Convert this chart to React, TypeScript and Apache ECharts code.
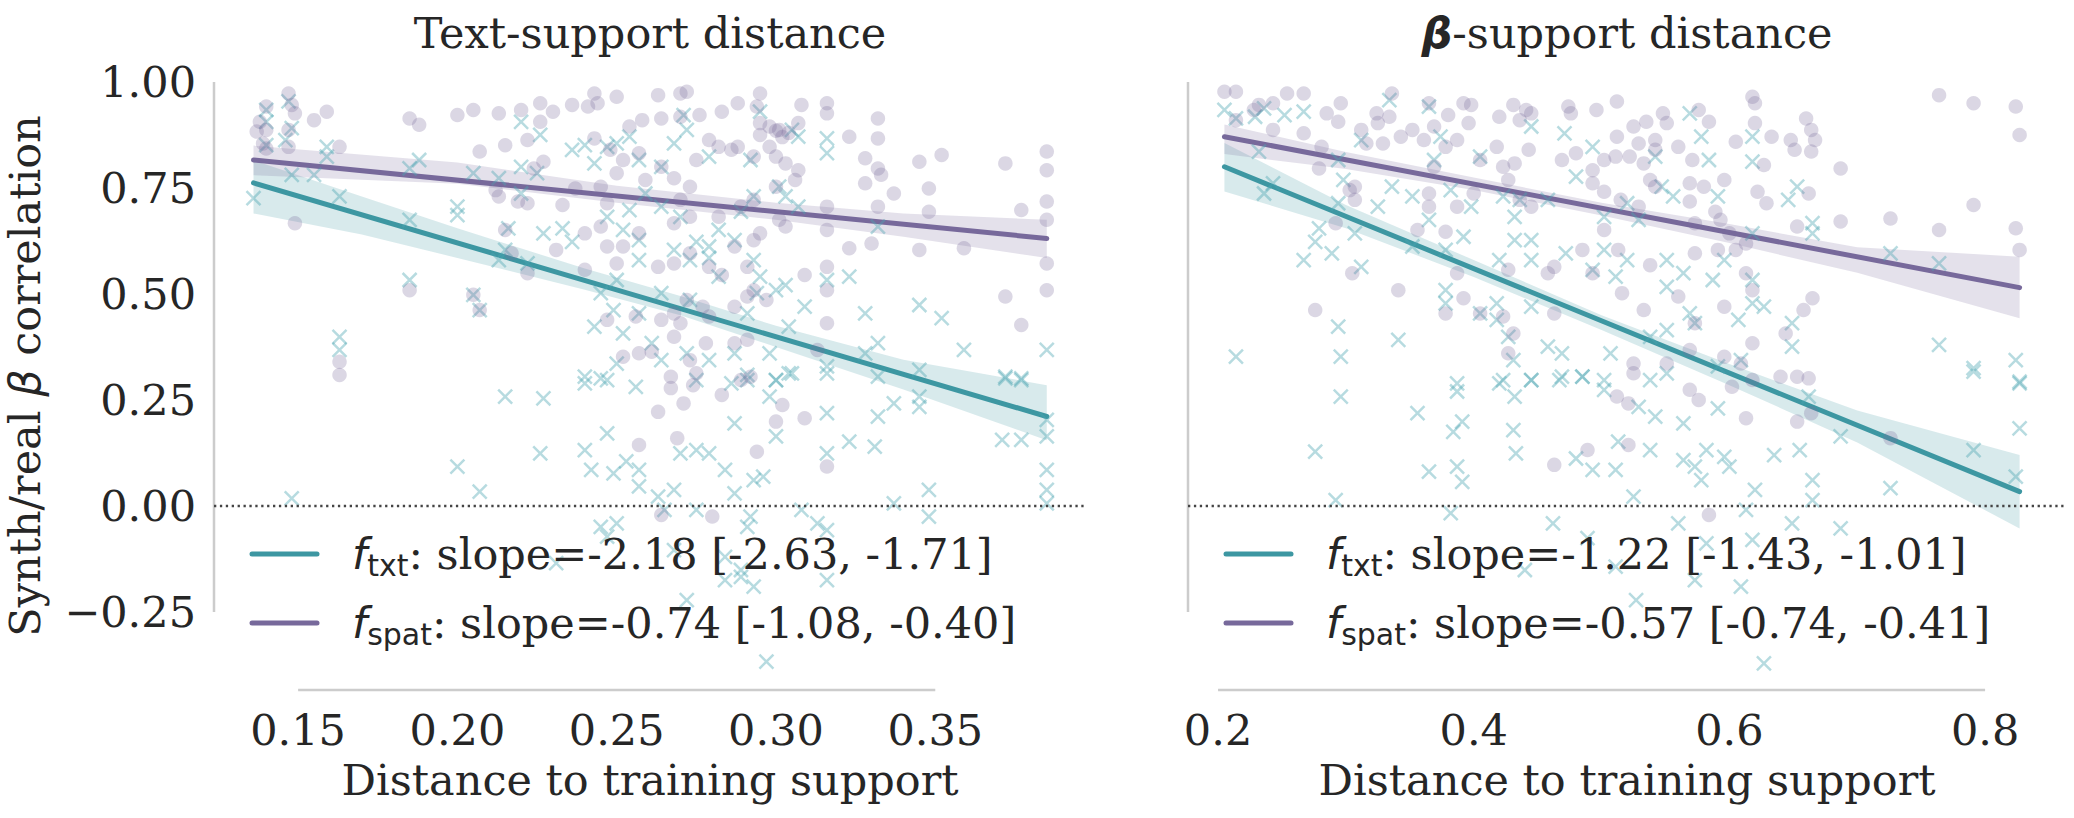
import React, { useEffect, useRef } from 'react';
import * as echarts from 'echarts';

// ---------- axes ----------
const leftXTicks = [0.15, 0.2, 0.25, 0.3, 0.35];
const rightXTicks = [0.2, 0.4, 0.6, 0.8];
const yTicks = [-0.25, 0, 0.25, 0.5, 0.75, 1.0];
const leftXRange = [0.1236, 0.397];
const rightXRange = [0.1765, 0.8633];
const yRange = [-0.434, 1.0377];

// ---------- texts ----------
const leftTitle = 'Text-support distance';
const rightTitleRest = '-support distance';
const xAxisTitle = 'Distance to training support';
const leftLegend = ['slope=-2.18 [-2.63, -1.71]', 'slope=-0.74 [-1.08, -0.40]'];
const rightLegend = ['slope=-1.22 [-1.43, -1.01]', 'slope=-0.57 [-0.74, -0.41]'];

// ---------- regression fits [x, y] ----------
const leftTxtFit = [[0.136, 0.762], [0.385, 0.211]];
const leftSpatFit = [[0.136, 0.816], [0.385, 0.631]];
const rightTxtFit = [[0.205, 0.800], [0.827, 0.034]];
const rightSpatFit = [[0.205, 0.871], [0.827, 0.515]];

// ---------- confidence bands [x, lower, upper] ----------
const leftTxtBand = [[0.136, 0.690, 0.815], [0.17, 0.640, 0.730], [0.20, 0.585, 0.655], [0.24, 0.510, 0.560], [0.27, 0.450, 0.495], [0.30, 0.375, 0.425], [0.34, 0.275, 0.345], [0.385, 0.155, 0.285]];
const leftSpatBand = [[0.136, 0.780, 0.850], [0.20, 0.760, 0.810], [0.25, 0.715, 0.755], [0.30, 0.675, 0.715], [0.34, 0.635, 0.690], [0.385, 0.585, 0.675]];
const rightTxtBand = [[0.205, 0.742, 0.856], [0.30, 0.655, 0.710], [0.40, 0.540, 0.580], [0.50, 0.415, 0.450], [0.60, 0.285, 0.335], [0.70, 0.150, 0.225], [0.827, -0.053, 0.120]];
const rightSpatBand = [[0.205, 0.830, 0.900], [0.30, 0.795, 0.835], [0.40, 0.745, 0.775], [0.50, 0.685, 0.715], [0.60, 0.620, 0.665], [0.70, 0.550, 0.610], [0.827, 0.443, 0.588]];

// ---------- scatter points [x, y] ----------
const leftSpatPts = [
  [0.140,0.942],[0.138,0.906],[0.137,0.883],[0.140,0.887],[0.139,0.855],[0.140,0.843],[0.147,0.973],[0.148,0.946],[0.147,0.887],[0.147,0.847],[0.149,0.667],[0.159,0.930],[0.155,0.910],[0.163,0.847],[0.149,0.926],
  [0.185,0.914],[0.188,0.899],[0.200,0.922],[0.205,0.934],[0.213,0.926],[0.220,0.934],[0.226,0.950],[0.226,0.906],[0.230,0.930],[0.236,0.946],[0.241,0.942],[0.243,0.973],[0.250,0.965],[0.244,0.950],[0.243,0.867],[0.248,0.840],[0.254,0.895],[0.258,0.910],[0.263,0.969],[0.270,0.973],[0.272,0.977],[0.264,0.914],[0.270,0.918],[0.276,0.922],[0.283,0.930],[0.288,0.950],[0.294,0.942],[0.295,0.973],[0.295,0.903],[0.295,0.875],[0.301,0.887],[0.307,0.903],[0.308,0.946],[0.316,0.950],[0.316,0.926],[0.323,0.871],[0.332,0.914],[0.332,0.867],[0.328,0.820],[0.332,0.796],[0.333,0.781],[0.328,0.761],[0.337,0.737],[0.348,0.749],[0.345,0.812],[0.352,0.828],[0.372,0.808],[0.385,0.836],[0.385,0.792],[0.385,0.718],[0.385,0.675],[0.377,0.698],[0.348,0.694],[0.332,0.706],[0.316,0.706],[0.316,0.651],[0.323,0.608],[0.330,0.619],[0.345,0.604],[0.359,0.608],[0.385,0.572],[0.385,0.509],[0.372,0.494],[0.377,0.427],[0.316,0.431],[0.316,0.564],[0.309,0.545],[0.316,0.509],
  [0.207,0.836],[0.215,0.851],[0.222,0.863],[0.224,0.796],[0.227,0.812],[0.212,0.745],[0.213,0.730],[0.219,0.718],[0.222,0.714],[0.233,0.710],[0.237,0.749],[0.245,0.753],[0.247,0.714],[0.252,0.816],[0.257,0.832],[0.250,0.785],[0.259,0.769],[0.264,0.800],[0.268,0.773],[0.273,0.753],[0.275,0.816],[0.279,0.863],[0.282,0.847],[0.286,0.840],[0.288,0.847],[0.293,0.824],[0.298,0.847],[0.300,0.824],[0.303,0.808],[0.306,0.769],[0.307,0.792],[0.300,0.753],[0.293,0.722],[0.289,0.706],[0.282,0.682],[0.273,0.682],[0.270,0.722],[0.268,0.667],[0.257,0.643],[0.252,0.612],[0.245,0.659],[0.240,0.643],[0.247,0.612],[0.250,0.572],[0.263,0.564],[0.268,0.572],[0.273,0.596],[0.279,0.564],[0.283,0.545],[0.287,0.612],[0.293,0.627],[0.295,0.643],[0.301,0.675],[0.303,0.659],[0.291,0.564],[0.293,0.509],[0.291,0.494],[0.297,0.486],[0.287,0.470],[0.277,0.470],[0.272,0.486],[0.270,0.431],[0.268,0.399],[0.257,0.360],[0.252,0.352],[0.261,0.364],[0.273,0.344],[0.278,0.384],[0.287,0.384],[0.291,0.392],[0.264,0.439],[0.268,0.454],[0.256,0.447],[0.247,0.439],[0.240,0.557],[0.231,0.604],[0.215,0.651],[0.217,0.596],[0.222,0.549],[0.279,0.447],[0.313,0.368],
  [0.185,0.509],[0.205,0.498],[0.207,0.462],[0.163,0.340],[0.163,0.309],
  [0.267,0.305],[0.267,0.278],[0.271,0.242],[0.263,0.222],[0.274,0.285],[0.283,0.262],[0.292,0.305],[0.300,0.199],[0.302,0.238],[0.309,0.207],[0.269,0.160],[0.257,0.144],[0.294,0.128],[0.316,0.093],[0.264,-0.021],[0.280,-0.025],[0.275,0.313],[0.289,0.297],
  [0.300,0.885],[0.302,0.870],[0.298,0.895],[0.304,0.880]
];

const leftTxtPts = [
  [0.136,0.726],[0.140,0.934],[0.140,0.906],[0.147,0.954],[0.148,0.891],[0.140,0.851],[0.146,0.863],[0.148,0.781],[0.155,0.781],[0.159,0.847],[0.159,0.824],[0.163,0.730],[0.188,0.816],[0.185,0.796],[0.185,0.675],[0.200,0.706],[0.200,0.686],[0.205,0.785],[0.220,0.906],[0.226,0.875],[0.220,0.800],[0.225,0.785],[0.213,0.773],[0.220,0.737],[0.216,0.655],[0.215,0.604],[0.213,0.580],[0.222,0.572],[0.227,0.643],[0.233,0.655],[0.236,0.623],[0.236,0.840],[0.240,0.851],[0.243,0.808],[0.247,0.847],[0.250,0.855],[0.254,0.871],[0.257,0.816],[0.264,0.800],[0.268,0.855],[0.271,0.922],[0.272,0.887],[0.279,0.824],[0.292,0.816],[0.295,0.930],[0.305,0.887],[0.307,0.871],[0.316,0.867],[0.316,0.832],[0.301,0.753],[0.293,0.730],[0.303,0.730],[0.307,0.706],[0.289,0.694],[0.282,0.651],[0.287,0.627],[0.275,0.623],[0.279,0.612],[0.270,0.682],[0.264,0.706],[0.259,0.737],[0.254,0.698],[0.247,0.682],[0.252,0.651],[0.257,0.627],[0.268,0.604],[0.273,0.580],[0.279,0.585],[0.257,0.580],[0.250,0.533],[0.245,0.502],[0.249,0.462],[0.243,0.423],[0.252,0.407],[0.257,0.454],[0.264,0.502],[0.273,0.486],[0.282,0.541],[0.293,0.580],[0.295,0.541],[0.300,0.509],[0.303,0.521],[0.291,0.454],[0.294,0.502],[0.323,0.541],[0.316,0.533],[0.309,0.470],[0.304,0.423],[0.328,0.454],[0.345,0.474],[0.352,0.443],[0.332,0.384],[0.328,0.360],[0.316,0.329],[0.359,0.368],[0.345,0.321],[0.372,0.301],[0.377,0.301],[0.385,0.368],[0.163,0.399],[0.163,0.368],[0.185,0.533],[0.205,0.498],[0.207,0.462],[0.247,0.297],[0.275,0.297],[0.291,0.297],[0.300,0.297],[0.305,0.313],[0.298,0.360],[0.287,0.360],[0.279,0.344],[0.264,0.344],[0.261,0.384],[0.272,0.360],[0.240,0.305],[0.250,0.336],[0.332,0.659],
  [0.148,0.018],[0.207,0.034],[0.200,0.093],[0.215,0.258],[0.227,0.254],[0.226,0.124],[0.240,0.132],[0.242,0.085],[0.247,0.171],[0.249,0.077],[0.253,0.105],[0.257,0.085],[0.257,0.046],[0.263,0.022],[0.268,0.038],[0.270,0.124],[0.275,0.132],[0.279,0.124],[0.284,0.085],[0.287,0.195],[0.287,0.030],[0.293,0.061],[0.296,0.069],[0.300,0.164],[0.316,0.219],[0.316,0.124],[0.323,0.152],[0.331,0.140],[0.332,0.211],[0.337,0.242],[0.345,0.258],[0.345,0.234],[0.348,0.038],[0.348,-0.025],[0.337,0.006],[0.316,-0.057],[0.313,-0.041],[0.308,-0.009],[0.292,-0.025],[0.291,-0.049],[0.275,-0.009],[0.265,-0.009],[0.250,-0.041],[0.245,-0.049],[0.247,-0.072],[0.245,0.301],[0.240,0.289],[0.256,0.281],[0.286,0.289],[0.291,0.309],[0.298,0.258],[0.300,0.297],[0.304,0.313],[0.316,0.313],[0.332,0.305],[0.372,0.305],[0.377,0.297],[0.385,0.203],[0.385,0.164],[0.371,0.156],[0.377,0.156],[0.385,0.085],[0.385,0.038],[0.385,0.006],[0.272,-0.222],[0.297,-0.367],[0.289,-0.167],[0.284,-0.175],[0.316,-0.175],[0.293,-0.190],[0.268,-0.104],[0.231,-0.135],[0.284,-0.120],[0.289,-0.151]
];

const rightSpatPts = [
  [0.205,0.977],[0.214,0.977],[0.254,0.973],[0.267,0.973],[0.232,0.946],[0.243,0.950],[0.228,0.934],[0.214,0.910],[0.243,0.887],[0.267,0.879],[0.285,0.926],[0.296,0.950],[0.294,0.906],[0.281,0.847],[0.279,0.796],[0.292,0.667],[0.307,0.753],[0.303,0.745],[0.307,0.722],[0.305,0.549],[0.312,0.887],[0.324,0.926],[0.325,0.903],[0.336,0.973],[0.334,0.918],[0.316,0.855],[0.329,0.855],[0.343,0.871],[0.352,0.887],[0.361,0.863],[0.365,0.950],[0.369,0.895],[0.380,0.922],[0.392,0.950],[0.398,0.946],[0.396,0.903],[0.387,0.863],[0.378,0.847],[0.369,0.800],[0.365,0.737],[0.356,0.651],[0.378,0.647],[0.365,0.706],[0.387,0.706],[0.400,0.737],[0.405,0.816],[0.418,0.847],[0.420,0.918],[0.431,0.946],[0.441,0.934],[0.445,0.926],[0.436,0.910],[0.443,0.840],[0.432,0.808],[0.427,0.769],[0.423,0.800],[0.436,0.722],[0.445,0.706],[0.474,0.942],[0.476,0.926],[0.496,0.934],[0.512,0.954],[0.469,0.816],[0.480,0.832],[0.493,0.792],[0.502,0.816],[0.512,0.871],[0.525,0.895],[0.535,0.906],[0.529,0.855],[0.542,0.863],[0.548,0.926],[0.551,0.903],[0.560,0.847],[0.542,0.840],[0.533,0.808],[0.522,0.824],[0.511,0.824],[0.493,0.761],[0.502,0.741],[0.515,0.722],[0.529,0.706],[0.538,0.769],[0.542,0.753],[0.571,0.816],[0.569,0.761],[0.580,0.753],[0.569,0.718],[0.576,0.934],[0.584,0.906],[0.573,0.667],[0.589,0.694],[0.593,0.675],[0.596,0.769],[0.605,0.859],[0.618,0.965],[0.620,0.950],[0.620,0.903],[0.633,0.871],[0.648,0.863],[0.651,0.840],[0.660,0.914],[0.664,0.887],[0.667,0.863],[0.664,0.836],[0.627,0.804],[0.622,0.741],[0.629,0.714],[0.662,0.737],[0.653,0.659],[0.687,0.796],[0.687,0.671],[0.726,0.678],[0.764,0.969],[0.791,0.950],[0.824,0.942],[0.827,0.875],[0.791,0.710],[0.764,0.651],[0.824,0.655],[0.827,0.604],
  [0.600,0.643],[0.613,0.619],[0.605,0.604],[0.591,0.604],[0.573,0.596],[0.538,0.568],[0.513,0.604],[0.502,0.651],[0.485,0.604],[0.463,0.564],[0.458,0.549],[0.427,0.557],[0.387,0.549],[0.341,0.509],[0.276,0.462],[0.392,0.490],[0.405,0.454],[0.423,0.447],[0.431,0.407],[0.427,0.360],[0.378,0.454],[0.493,0.549],[0.516,0.502],[0.533,0.462],[0.560,0.494],[0.596,0.470],[0.613,0.549],[0.618,0.509],[0.658,0.462],[0.665,0.490],[0.644,0.407],[0.618,0.384],[0.596,0.352],[0.609,0.336],[0.573,0.431],[0.551,0.336],[0.525,0.336],[0.525,0.313],[0.640,0.305],[0.653,0.305],[0.662,0.301],[0.618,0.297],[0.569,0.368],[0.463,0.454],
  [0.569,0.274],[0.576,0.250],[0.512,0.258],[0.521,0.242],[0.602,0.281],[0.613,0.207],[0.653,0.199],[0.664,0.219],[0.726,0.160],[0.521,0.144],[0.489,0.132],[0.463,0.097],[0.584,-0.021]
];

const rightTxtPts = [
  [0.205,0.934],[0.214,0.914],[0.229,0.918],[0.236,0.938],[0.252,0.922],[0.267,0.930],[0.232,0.836],[0.236,0.737],[0.243,0.761],[0.279,0.655],[0.267,0.580],[0.289,0.596],[0.276,0.623],[0.294,0.714],[0.298,0.769],[0.307,0.643],[0.312,0.564],[0.294,0.816],[0.312,0.863],[0.325,0.706],[0.334,0.957],[0.336,0.753],[0.352,0.730],[0.365,0.942],[0.369,0.816],[0.374,0.871],[0.382,0.745],[0.392,0.635],[0.365,0.675],[0.378,0.604],[0.352,0.612],[0.405,0.824],[0.398,0.706],[0.423,0.730],[0.432,0.682],[0.436,0.722],[0.432,0.627],[0.445,0.627],[0.420,0.580],[0.445,0.580],[0.472,0.596],[0.445,0.895],[0.458,0.722],[0.480,0.777],[0.471,0.879],[0.493,0.847],[0.502,0.682],[0.520,0.714],[0.529,0.675],[0.520,0.580],[0.502,0.604],[0.493,0.557],[0.511,0.541],[0.551,0.580],[0.564,0.549],[0.547,0.753],[0.542,0.824],[0.556,0.730],[0.569,0.926],[0.578,0.871],[0.584,0.816],[0.591,0.730],[0.596,0.580],[0.587,0.533],[0.618,0.871],[0.618,0.812],[0.653,0.753],[0.646,0.722],[0.665,0.667],[0.665,0.643],[0.618,0.643],[0.551,0.517],[0.618,0.533],[0.627,0.470],[0.607,0.439],[0.618,0.478],[0.569,0.454],[0.573,0.431],[0.551,0.415],[0.538,0.399],[0.507,0.360],[0.469,0.360],[0.458,0.376],[0.445,0.470],[0.418,0.478],[0.418,0.439],[0.378,0.509],[0.378,0.478],[0.405,0.454],[0.341,0.392],[0.294,0.423],[0.296,0.352],[0.214,0.352],[0.427,0.399],[0.431,0.344],[0.423,0.297],[0.445,0.297],[0.467,0.297],[0.485,0.305],[0.502,0.297],[0.538,0.297],[0.551,0.313],[0.591,0.329],[0.609,0.344],[0.649,0.376],[0.649,0.431],[0.764,0.380],[0.791,0.325],[0.824,0.344],[0.827,0.293],[0.726,0.596],[0.764,0.572],[0.387,0.289],
  [0.296,0.258],[0.276,0.128],[0.292,0.014],[0.356,0.219],[0.365,0.081],[0.387,0.270],[0.384,0.175],[0.391,0.199],[0.387,0.093],[0.391,0.057],[0.382,-0.017],[0.420,0.289],[0.432,0.258],[0.431,0.179],[0.433,0.124],[0.445,0.297],[0.469,0.305],[0.485,0.305],[0.502,0.274],[0.462,-0.041],[0.480,0.112],[0.493,0.085],[0.511,0.085],[0.513,0.152],[0.525,0.022],[0.529,0.234],[0.538,0.132],[0.542,0.211],[0.560,-0.041],[0.564,0.108],[0.564,0.195],[0.573,0.093],[0.578,0.061],[0.582,0.132],[0.591,0.230],[0.596,0.116],[0.600,0.093],[0.613,-0.009],[0.620,0.038],[0.635,0.120],[0.649,-0.041],[0.655,0.132],[0.665,0.061],[0.665,0.014],[0.662,0.258],[0.687,0.164],[0.687,-0.053],[0.726,0.042],[0.791,0.132],[0.824,0.069],[0.827,0.183],[0.827,0.289],[0.791,0.317],[0.627,-0.371],[0.609,-0.190],[0.573,-0.175],[0.527,-0.222],[0.511,-0.143],[0.440,-0.151],[0.582,-0.088],[0.618,-0.080],[0.489,-0.076]
];

// ---------- styles ----------
const SERIF = "'DejaVu Serif', serif";
const MATH = "'DejaVu Sans', sans-serif";
const TEXT = '#262626';
const TEAL = '#3d97a2';
const PURPLE = '#77699b';
const TEAL_PT = '#4aa6b1';
const PURPLE_PT = '#7a6a9c';
const SPINE = '#cccccc';
const FS = 43;
const CROSS = 'path://M0 0L10 10M10 0L0 10';

const fmtY = (v: number) => (v < 0 ? '\u2212' + Math.abs(v).toFixed(2) : v.toFixed(2));

function bandSeries(band: number[][], color: string, xi: number) {
  return {
    type: 'custom',
    xAxisIndex: xi,
    yAxisIndex: xi,
    silent: true,
    clip: false,
    data: band,
    encode: { x: 0, y: [1, 2] },
    renderItem: (params: any, api: any) => {
      if (params.dataIndex !== 0) return null;
      const upper = band.map((d) => api.coord([d[0], d[2]]));
      const lower = band.slice().reverse().map((d) => api.coord([d[0], d[1]]));
      return {
        type: 'polygon',
        shape: { points: upper.concat(lower) },
        style: { fill: color, opacity: 0.2 },
      };
    },
  };
}

function lineSeries(data: number[][], color: string, xi: number, width: number, extra: any = {}) {
  return {
    type: 'line',
    xAxisIndex: xi,
    yAxisIndex: xi,
    data,
    symbol: 'none',
    silent: true,
    clip: false,
    itemStyle: { color },
    lineStyle: { color, width, cap: 'round', ...(extra.lineStyle || {}) },
    z: extra.z ?? 2,
  };
}

function crossSeries(data: number[][], xi: number) {
  return {
    type: 'scatter',
    xAxisIndex: xi,
    yAxisIndex: xi,
    data,
    symbol: CROSS,
    symbolSize: 14,
    silent: true,
    itemStyle: { color: 'none', borderColor: TEAL_PT, borderWidth: 2.5, opacity: 0.4 },
  };
}

function dotSeries(data: number[][], xi: number) {
  return {
    type: 'scatter',
    xAxisIndex: xi,
    yAxisIndex: xi,
    data,
    symbol: 'circle',
    symbolSize: 14.5,
    silent: true,
    itemStyle: { color: PURPLE_PT, opacity: 0.27 },
  };
}

function legendGraphics(x0: number, texts: string[]) {
  const rows = [
    { sub: 'txt', color: TEAL, y: 554, text: texts[0] },
    { sub: 'spat', color: PURPLE, y: 623, text: texts[1] },
  ];
  const out: any[] = [];
  rows.forEach((r) => {
    out.push({
      type: 'line',
      shape: { x1: x0, y1: r.y, x2: x0 + 65, y2: r.y },
      style: { stroke: r.color, lineWidth: 5, lineCap: 'round' },
      z: 10,
    });
    out.push({
      type: 'text',
      x: x0 + 100,
      y: r.y,
      z: 10,
      style: {
        text: `{f|f}{s|${r.sub}}{m|: ${r.text}}`,
        align: 'left',
        verticalAlign: 'middle',
        rich: {
          f: { fontFamily: MATH, fontStyle: 'italic', fontSize: FS, lineHeight: 52, verticalAlign: 'middle', fill: TEXT },
          s: { fontFamily: MATH, fontSize: 30, lineHeight: 30, verticalAlign: 'bottom', fill: TEXT },
          m: { fontFamily: SERIF, fontSize: FS, lineHeight: 52, verticalAlign: 'middle', fill: TEXT },
        },
      },
    });
  });
  return out;
}

export default function App() {
  const ref = useRef<HTMLDivElement>(null);

  useEffect(() => {
    if (!ref.current) return;
    const chart = echarts.init(ref.current, undefined, { renderer: 'svg' });

    const xAxisBase = (range: number[], ticks: number[], fmt: (v: number) => string, gi: number) => ({
      type: 'value',
      gridIndex: gi,
      min: range[0],
      max: range[1],
      axisLine: { show: false },
      axisTick: { show: false },
      splitLine: { show: false },
      axisLabel: {
        customValues: ticks,
        formatter: fmt,
        fontSize: FS,
        fontFamily: SERIF,
        color: TEXT,
        margin: 18,
      },
    });

    const yAxisBase = (gi: number, showLabels: boolean) => ({
      type: 'value',
      gridIndex: gi,
      min: yRange[0],
      max: yRange[1],
      axisLine: { show: false },
      axisTick: { show: false },
      splitLine: { show: false },
      axisLabel: {
        show: showLabels,
        customValues: yTicks,
        formatter: fmtY,
        fontSize: FS,
        fontFamily: SERIF,
        color: TEXT,
        margin: 18,
      },
    });

    const option: any = {
      animation: false,
      backgroundColor: '#ffffff',
      grid: [
        { left: 214, top: 66, width: 871, height: 624 },
        { left: 1188, top: 66, width: 878, height: 624 },
      ],
      xAxis: [
        xAxisBase(leftXRange, leftXTicks, (v: number) => v.toFixed(2), 0),
        xAxisBase(rightXRange, rightXTicks, (v: number) => v.toFixed(1), 1),
      ],
      yAxis: [yAxisBase(0, true), yAxisBase(1, false)],
      series: [
        // spines
        lineSeries([[leftXTicks[0], yRange[0]], [leftXTicks[leftXTicks.length - 1], yRange[0]]], SPINE, 0, 2.5, { z: 1, lineStyle: { cap: 'butt' } }),
        lineSeries([[leftXRange[0], yTicks[0]], [leftXRange[0], yTicks[yTicks.length - 1]]], SPINE, 0, 2.5, { z: 1, lineStyle: { cap: 'butt' } }),
        lineSeries([[rightXTicks[0], yRange[0]], [rightXTicks[rightXTicks.length - 1], yRange[0]]], SPINE, 1, 2.5, { z: 1, lineStyle: { cap: 'butt' } }),
        lineSeries([[rightXRange[0], yTicks[0]], [rightXRange[0], yTicks[yTicks.length - 1]]], SPINE, 1, 2.5, { z: 1, lineStyle: { cap: 'butt' } }),
        // left panel
        crossSeries(leftTxtPts, 0),
        bandSeries(leftTxtBand, TEAL, 0),
        lineSeries(leftTxtFit, TEAL, 0, 5),
        dotSeries(leftSpatPts, 0),
        bandSeries(leftSpatBand, PURPLE, 0),
        lineSeries(leftSpatFit, PURPLE, 0, 5),
        // right panel
        crossSeries(rightTxtPts, 1),
        bandSeries(rightTxtBand, TEAL, 1),
        lineSeries(rightTxtFit, TEAL, 1, 5),
        dotSeries(rightSpatPts, 1),
        bandSeries(rightSpatBand, PURPLE, 1),
        lineSeries(rightSpatFit, PURPLE, 1, 5),
        // zero lines
        lineSeries([[leftXRange[0], 0], [leftXRange[1], 0]], '#444444', 0, 2.3, { z: 3, lineStyle: { type: [2.3, 3.6], cap: 'butt' } }),
        lineSeries([[rightXRange[0], 0], [rightXRange[1], 0]], '#444444', 1, 2.3, { z: 3, lineStyle: { type: [2.3, 3.6], cap: 'butt' } }),
      ],
      graphic: [
        {
          type: 'text',
          x: 650,
          y: 33,
          style: { text: leftTitle, align: 'center', verticalAlign: 'middle', font: `${FS}px ${SERIF}`, fill: TEXT },
        },
        {
          type: 'text',
          x: 1627,
          y: 33,
          style: {
            text: `{b|\u03B2}{t|${rightTitleRest}}`,
            align: 'center',
            verticalAlign: 'middle',
            rich: {
              b: { fontFamily: MATH, fontStyle: 'italic', fontWeight: 'bold', fontSize: FS, lineHeight: 50, fill: TEXT },
              t: { fontFamily: SERIF, fontSize: FS, lineHeight: 50, fill: TEXT },
            },
          },
        },
        {
          type: 'text',
          x: 650,
          y: 780,
          style: { text: xAxisTitle, align: 'center', verticalAlign: 'middle', font: `${FS}px ${SERIF}`, fill: TEXT },
        },
        {
          type: 'text',
          x: 1627,
          y: 780,
          style: { text: xAxisTitle, align: 'center', verticalAlign: 'middle', font: `${FS}px ${SERIF}`, fill: TEXT },
        },
        {
          type: 'text',
          x: 25,
          y: 376,
          rotation: Math.PI / 2,
          style: {
            text: '{t|Synth/real }{b|\u03B2}{t| correlation}',
            align: 'center',
            verticalAlign: 'middle',
            rich: {
              t: { fontFamily: SERIF, fontSize: FS, lineHeight: 50, fill: TEXT },
              b: { fontFamily: MATH, fontStyle: 'italic', fontSize: FS, lineHeight: 50, fill: TEXT },
            },
          },
        },
        ...legendGraphics(252, leftLegend),
        ...legendGraphics(1226, rightLegend),
      ],
    };

    chart.setOption(option);
    return () => chart.dispose();
  }, []);

  return (
    <div
      ref={ref}
      style={{ position: 'absolute', left: 0, top: 0, width: 2074, height: 818, background: '#fff' }}
    />
  );
}
